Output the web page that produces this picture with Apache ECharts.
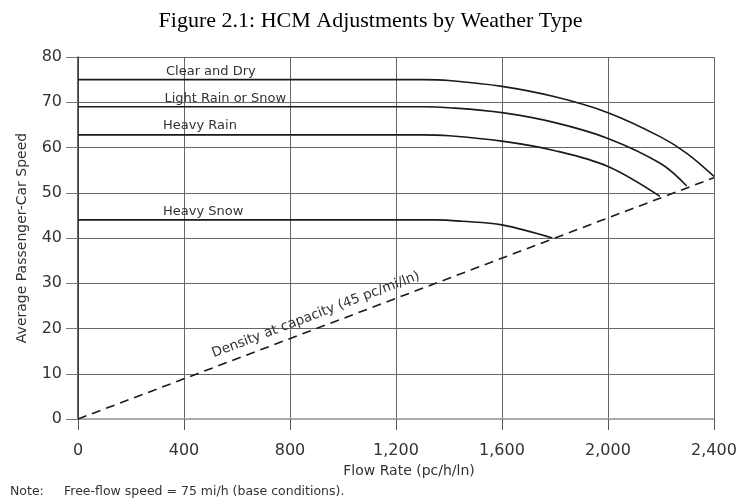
<!DOCTYPE html>
<html>
<head>
<meta charset="utf-8">
<script src="https://cdn.jsdelivr.net/npm/echarts@6/dist/echarts.min.js"></script>
<style>html,body{margin:0;padding:0;background:#fff}#c{width:741px;height:500px}</style>
</head>
<body>
<div id="c"></div>
<script>
// ---- data ----
var xTicks = [0, 400, 800, 1200, 1600, 2000, 2400];
var yTicks = [0, 10, 20, 30, 40, 50, 60, 70, 80];
var seriesNames = ['Clear and Dry', 'Light Rain or Snow', 'Heavy Rain', 'Heavy Snow'];
var clearDry   = [[0,75],[1300,75],[1400,74.8],[1600,73.5],[1800,71.2],[2000,67.7],[2200,62.3],[2300,58.6],[2400,53.6]];
var lightRain  = [[0,69],[1300,69],[1400,68.8],[1600,67.7],[1800,65.5],[2000,62.0],[2200,56.4],[2297,51.5]];
var heavyRain  = [[0,62.8],[1300,62.8],[1400,62.6],[1600,61.4],[1800,59.3],[2000,55.8],[2196,49.2]];
var heavySnow  = [[0,44],[1350,44],[1450,43.7],[1600,42.9],[1790,40.0]];
var densityLine = [[0,0],[2400,53.33]];
var densityLabel = 'Density at capacity (45 pc/mi/ln)';
var titleText = 'Figure 2.1: HCM Adjustments by Weather Type';
var xName = 'Flow Rate (pc/h/ln)';
var yName = 'Average Passenger-Car Speed';
var noteLead = 'Note:';
var noteText = 'Free-flow speed = 75 mi/h (base conditions).';

var chart = echarts.init(document.getElementById('c'), null, {renderer: 'canvas'});
var font = 'DejaVu Sans';
var curveStyle = {color: '#1a1a1a', width: 1.6};

function curve(name, data, labelCoord) {
  return {
    name: name, type: 'line', data: data, showSymbol: false, symbol: 'none',
    smooth: 0.35,
    lineStyle: curveStyle, itemStyle: {color: '#1a1a1a'},
    silent: true, animation: false,
    markPoint: {
      symbol: 'circle', symbolSize: 0, silent: true, animation: false,
      label: {show: true, position: 'right', distance: 0, formatter: name,
        fontFamily: font, fontSize: 13, color: '#333'},
      data: [{coord: labelCoord}]
    }
  };
}

var option = {
  backgroundColor: '#fff',
  animation: false,
  title: {
    text: titleText, left: 'center', top: 5,
    textStyle: {fontFamily: 'Liberation Serif', fontSize: 22, fontWeight: 'normal', color: '#000'}
  },
  grid: {left: 78, right: 27, top: 57, bottom: 81, containLabel: false},
  xAxis: {
    type: 'value', min: xTicks[0], max: xTicks[xTicks.length - 1], interval: 400,
    name: xName, nameLocation: 'middle', nameGap: 38,
    nameTextStyle: {fontFamily: font, fontSize: 14, color: '#333', padding: [0, 0, 0, 26]},
    axisLine: {show: true, lineStyle: {color: '#aaa', width: 2}},
    axisTick: {show: true, length: 11, lineStyle: {color: '#555', width: 1}},
    axisLabel: {fontFamily: font, fontSize: 16, color: '#333', margin: 24,
      formatter: function (v) { return v.toLocaleString('en-US'); }},
    splitLine: {show: true, lineStyle: {color: '#666', width: 1}}
  },
  yAxis: {
    type: 'value', min: yTicks[0], max: yTicks[yTicks.length - 1], interval: 10,
    name: yName, nameLocation: 'middle', nameGap: 49,
    nameTextStyle: {fontFamily: font, fontSize: 14, color: '#333'},
    axisLine: {show: true, lineStyle: {color: '#333', width: 1.5}},
    axisTick: {show: true, length: 12, lineStyle: {color: '#777', width: 1}},
    axisLabel: {fontFamily: font, fontSize: 16, color: '#333', margin: 16},
    splitLine: {show: true, lineStyle: {color: '#666', width: 1}}
  },
  series: [
    curve(seriesNames[0], clearDry, [332, 76.8]),
    curve(seriesNames[1], lightRain, [326, 70.7]),
    curve(seriesNames[2], heavyRain, [321, 64.8]),
    curve(seriesNames[3], heavySnow, [321, 45.8]),
    {
      name: 'density', type: 'line', data: densityLine, showSymbol: false, symbol: 'none',
      lineStyle: {color: '#1a1a1a', width: 1.6, type: [9, 6]}, silent: true, animation: false,
      markLine: {
        symbol: 'none', silent: true, animation: false,
        lineStyle: {width: 0, color: 'rgba(0,0,0,0)'},
        label: {show: true, position: 'insideMiddleTop', formatter: densityLabel, distance: 6,
          fontFamily: font, fontSize: 13.5, color: '#333'},
        data: [[{coord: [300, 6.67]}, {coord: [1530, 34]}]]
      }
    }
  ],
  graphic: [{
    type: 'text', left: 10, top: 485,
    style: {text: noteLead, fontFamily: font, fontSize: 12.5, fill: '#333'}
  }, {
    type: 'text', left: 64, top: 485,
    style: {text: noteText, fontFamily: font, fontSize: 12.5, fill: '#333'}
  }]
};
chart.setOption(option);
</script>
</body>
</html>
